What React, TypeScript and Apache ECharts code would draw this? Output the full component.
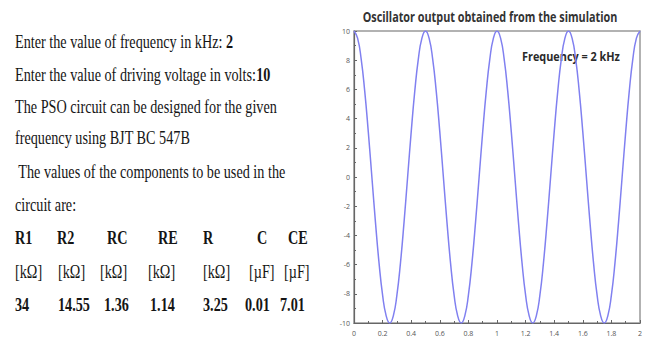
import React, { useEffect, useRef } from "react";
import * as echarts from "echarts";

// ---- data ----
const timeMs = [
  0, 0.025, 0.05, 0.075, 0.1, 0.125, 0.15, 0.175, 0.2, 0.225,
  0.25, 0.275, 0.3, 0.325, 0.35, 0.375, 0.4, 0.425, 0.45, 0.475,
  0.5, 0.525, 0.55, 0.575, 0.6, 0.625, 0.65, 0.675, 0.7, 0.725,
  0.75, 0.775, 0.8, 0.825, 0.85, 0.875, 0.9, 0.925, 0.95, 0.975,
  1, 1.025, 1.05, 1.075, 1.1, 1.125, 1.15, 1.175, 1.2, 1.225,
  1.25, 1.275, 1.3, 1.325, 1.35, 1.375, 1.4, 1.425, 1.45, 1.475,
  1.5, 1.525, 1.55, 1.575, 1.6, 1.625, 1.65, 1.675, 1.7, 1.725,
  1.75, 1.775, 1.8, 1.825, 1.85, 1.875, 1.9, 1.925, 1.95, 1.975, 2,
];
const outputVolts = [
  10, 9.51, 8.09, 5.88, 3.09, 0, -3.09, -5.88, -8.09, -9.51,
  -10, -9.51, -8.09, -5.88, -3.09, 0, 3.09, 5.88, 8.09, 9.51,
  10, 9.51, 8.09, 5.88, 3.09, 0, -3.09, -5.88, -8.09, -9.51,
  -10, -9.51, -8.09, -5.88, -3.09, 0, 3.09, 5.88, 8.09, 9.51,
  10, 9.51, 8.09, 5.88, 3.09, 0, -3.09, -5.88, -8.09, -9.51,
  -10, -9.51, -8.09, -5.88, -3.09, 0, 3.09, 5.88, 8.09, 9.51,
  10, 9.51, 8.09, 5.88, 3.09, 0, -3.09, -5.88, -8.09, -9.51,
  -10, -9.51, -8.09, -5.88, -3.09, 0, 3.09, 5.88, 8.09, 9.51, 10,
];

const titleText = "Oscillator output obtained from the simulation";
const annotationText = "Frequency = 2 kHz";

const introLines = [
  { plain: "Enter the value of frequency in kHz: ", bold: "2" },
  { plain: "Enter the value of driving voltage in volts:", bold: "10" },
  { plain: "The PSO circuit can be designed for the given", bold: "" },
  { plain: "frequency using BJT BC 547B", bold: "" },
  { plain: " The values of the components to be used in the", bold: "" },
  { plain: "circuit are:", bold: "" },
];
const componentNames = ["R1", "R2", "RC", "RE", "R", "C", "CE"];
const componentUnits = ["[kΩ]", "[kΩ]", "[kΩ]", "[kΩ]", "[kΩ]", "[µF]", "[µF]"];
const componentValues = ["34", "14.55", "1.36", "1.14", "3.25", "0.01", "7.01"];

// ---- layout (positions, not data) ----
const lineY = [42, 75, 107, 138, 172, 205];
const lineX = [15, 15, 15, 15, 15, 15];
const tableRowY = [238, 272, 305];
const nameX = [15, 57, 107, 158, 203, 257, 288];
const unitX = [15, 58, 100, 148, 203, 249, 284];
const valueX = [15, 58, 104, 150, 203, 245, 280];

const SERIF = '"Liberation Serif", "Times New Roman", serif';
const SANS = '"Open Sans", "Liberation Sans", sans-serif';

function measure(text: string, font: string): number {
  const c = document.createElement("canvas");
  const ctx = c.getContext("2d");
  if (!ctx) return text.length * 8;
  ctx.font = font;
  return ctx.measureText(text).width;
}

export default function App() {
  const ref = useRef<HTMLDivElement>(null);

  useEffect(() => {
    if (!ref.current) return;
    const chart = echarts.init(ref.current, undefined, { renderer: "svg" });

    const FS = 19;
    const serifScale = 262 / measure(introLines[2].plain, `${FS}px ${SERIF}`);
    const titleScale = 255 / measure(titleText, `bold 14px ${SANS}`);
    const annScale = 98 / measure(annotationText, `bold 13px ${SANS}`);

    const graphics: any[] = [];
    introLines.forEach((ln, i) => {
      graphics.push({
        type: "text",
        x: lineX[i],
        y: lineY[i],
        scaleX: serifScale,
        style: {
          text: ln.bold ? `{n|${ln.plain}}{b|${ln.bold}}` : `{n|${ln.plain}}`,
          rich: {
            n: { fontFamily: SERIF, fontSize: FS, fill: "#151515" },
            b: { fontFamily: SERIF, fontSize: FS, fontWeight: "bold", fill: "#151515" },
          },
          verticalAlign: "middle",
          align: "left",
        },
      });
    });
    const rows = [
      { items: componentNames, xs: nameX, bold: true },
      { items: componentUnits, xs: unitX, bold: false },
      { items: componentValues, xs: valueX, bold: true },
    ];
    rows.forEach((row, r) => {
      row.items.forEach((t, i) => {
        graphics.push({
          type: "text",
          x: row.xs[i],
          y: tableRowY[r],
          scaleX: serifScale,
          style: {
            text: t,
            fontFamily: SERIF,
            fontSize: FS,
            fontWeight: row.bold ? "bold" : "normal",
            fill: "#151515",
            verticalAlign: "middle",
            align: "left",
          },
        });
      });
    });
    graphics.push({
      type: "text",
      x: 490,
      y: 17,
      scaleX: titleScale,
      style: {
        text: titleText,
        fontFamily: SANS,
        fontSize: 14,
        fontWeight: "bold",
        fill: "#333",
        align: "center",
        verticalAlign: "middle",
      },
    });
    graphics.push({
      type: "text",
      x: 522,
      y: 56,
      scaleX: annScale,
      style: {
        text: annotationText,
        fontFamily: SANS,
        fontSize: 13,
        fontWeight: "bold",
        fill: "#2a2a2a",
        align: "left",
        verticalAlign: "middle",
      },
    });

    chart.setOption({
      animation: false,
      backgroundColor: "#ffffff",
      grid: {
        left: 354,
        top: 31,
        width: 286,
        height: 292,
        show: true,
        borderColor: "#999",
        borderWidth: 1.5,
        backgroundColor: "transparent",
      },
      xAxis: {
        type: "value",
        min: 0,
        max: 2,
        interval: 0.2,
        axisLine: { show: true, onZero: false, lineStyle: { color: "#666", width: 1.2 } },
        axisTick: { show: true, inside: true, length: 3, lineStyle: { color: "#666" } },
        minorTick: { show: true, splitNumber: 2, length: 2, lineStyle: { color: "#666" } },
        splitLine: { show: false },
        axisLabel: { fontSize: 7, color: "#555", margin: 7, fontFamily: SANS },
      },
      yAxis: {
        type: "value",
        min: -10,
        max: 10,
        interval: 2,
        axisLine: { show: true, onZero: false, lineStyle: { color: "#666", width: 1.2 } },
        axisTick: { show: true, inside: true, length: 3, lineStyle: { color: "#666" } },
        minorTick: { show: true, splitNumber: 2, length: 2, lineStyle: { color: "#666" } },
        splitLine: { show: false },
        axisLabel: { fontSize: 7, color: "#555", margin: 4, fontFamily: SANS },
      },
      series: [
        {
          type: "line",
          data: timeMs.map((t, i) => [t, outputVolts[i]]),
          smooth: true,
          symbol: "none",
          lineStyle: { color: "#8080f0", width: 1.5 },
        },
      ],
      graphic: graphics,
    });

    return () => chart.dispose();
  }, []);

  return (
    <div
      ref={ref}
      style={{ position: "fixed", left: 0, top: 0, width: 654, height: 343 }}
    />
  );
}
